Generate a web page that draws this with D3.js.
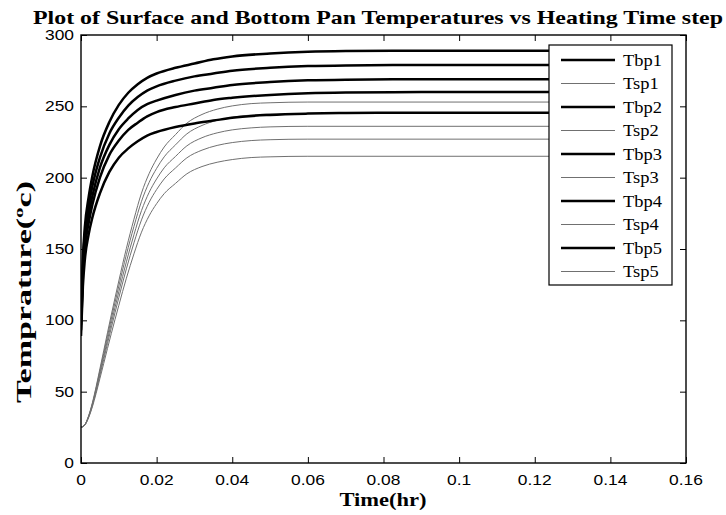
<!DOCTYPE html>
<html>
<head>
<meta charset="utf-8">
<script src="https://cdn.jsdelivr.net/npm/d3@7/dist/d3.min.js"></script>
<style>
  html, body { margin: 0; padding: 0; background: #fff; }
  svg { display: block; }
</style>
</head>
<body>
<svg id="chart" width="726" height="515"></svg>
<script>
// ---------------- data ----------------
const tbpTime = [0, 0.0005, 0.001, 0.002, 0.003, 0.005, 0.0075, 0.01, 0.0125, 0.015, 0.0175, 0.02, 0.025, 0.03, 0.035, 0.04, 0.05, 0.06, 0.07, 0.09, 0.14];
const tbp1 = [105, 144, 165, 186, 201, 222, 239, 251, 259.5, 265.5, 270, 273, 277, 280, 283, 285, 287, 288.2, 288.7, 289, 289];
const tbp2 = [100, 139, 160, 180, 194, 214, 231, 242, 250.5, 256.5, 261, 264, 268, 271, 273, 275, 277, 278.2, 278.7, 279, 279];
const tbp3 = [97, 135, 154, 174, 187, 207, 223, 234, 241.5, 247.5, 251.5, 254, 258, 261, 263, 265, 267, 268.2, 268.7, 269, 269];
const tbp4 = [93, 131, 150, 168, 181, 200, 216, 226, 233.5, 238.5, 243, 246, 249.5, 252, 254.5, 256, 258, 259.2, 259.7, 260, 260];
const tbp5 = [89, 124, 142, 160, 172, 189, 204, 214, 220.5, 225.5, 229.5, 232, 235.5, 238, 240, 242, 244, 244.9, 245.3, 245.5, 245.5];

const tspTime = [0, 0.001, 0.002, 0.003, 0.004, 0.005, 0.006, 0.008, 0.010, 0.012, 0.014, 0.016, 0.018, 0.020, 0.022, 0.025, 0.028, 0.032, 0.036, 0.040, 0.045, 0.050, 0.060, 0.140];
const tsp1 = [25, 26.8, 33, 42.1, 53.5, 66, 78.6, 103.7, 127.6, 150.4, 170.9, 189.2, 202.8, 213.1, 221.5, 230.2, 238.2, 244.3, 248, 250.3, 251.9, 252.5, 253, 253];
const tsp2 = [25, 26.8, 32.7, 41.5, 52.5, 64.6, 76.7, 100.9, 124, 146, 165.8, 183.4, 196.6, 206.5, 214.6, 223, 230.7, 236.6, 240.2, 242.4, 243.9, 244.6, 245, 245];
const tsp3 = [25, 26.7, 32.4, 40.8, 51.4, 63, 74.6, 97.8, 120, 141, 160, 176.9, 189.6, 199.1, 206.9, 214.9, 222.3, 228, 231.4, 233.5, 234.9, 235.6, 236, 236];
const tsp4 = [25, 26.6, 32.1, 40.2, 50.3, 61.4, 72.5, 94.7, 115.9, 136.1, 154.3, 170.4, 182.6, 191.7, 199.1, 206.8, 213.9, 219.3, 222.6, 224.6, 226, 226.6, 227, 227];
const tsp5 = [25, 26.5, 31.7, 39.3, 48.8, 59.2, 69.7, 90.6, 110.5, 129.5, 146.6, 161.8, 173.2, 181.8, 188.8, 196, 202.7, 207.8, 210.8, 212.7, 214.1, 214.6, 215, 215];

const seriesNames = ["Tbp1", "Tsp1", "Tbp2", "Tsp2", "Tbp3", "Tsp3", "Tbp4", "Tsp4", "Tbp5", "Tsp5"];
const xTicks = [0, 0.02, 0.04, 0.06, 0.08, 0.1, 0.12, 0.14, 0.16];
const yTicks = [0, 50, 100, 150, 200, 250, 300];

const titleText = "Plot of Surface and Bottom Pan Temperatures vs Heating Time step";
const xLabelText = "Time(hr)";

// ---------------- layout ----------------
const svg = d3.select("#chart");
const plot = { left: 81, right: 686, top: 35, bottom: 463 };
const x = d3.scaleLinear().domain([0, 0.16]).range([plot.left, plot.right]);
const y = d3.scaleLinear().domain([0, 300]).range([plot.bottom, plot.top]);
const sx = 1.2; // horizontal stretch of the source picture text

const seriesData = [tbp1, tsp1, tbp2, tsp2, tbp3, tsp3, tbp4, tsp4, tbp5, tsp5];
const series = seriesNames.map((name, i) => ({
  name,
  thick: name.startsWith("Tbp"),
  t: name.startsWith("Tbp") ? tbpTime : tspTime,
  v: seriesData[i]
}));
const thinColor = "#707070";

svg.append("defs").append("clipPath").attr("id", "clip")
  .append("rect").attr("x", plot.left).attr("y", plot.top)
  .attr("width", plot.right - plot.left).attr("height", plot.bottom - plot.top);

// lines
const line = d3.line().x(d => x(d[0])).y(d => y(d[1])).curve(d3.curveMonotoneX);
const gLines = svg.append("g").attr("clip-path", "url(#clip)");
series.filter(s => !s.thick).concat(series.filter(s => s.thick)).forEach(s => {
  gLines.append("path")
    .attr("d", line(s.t.map((t, i) => [t, s.v[i]])))
    .attr("fill", "none")
    .attr("stroke", s.thick ? "#000" : thinColor)
    .attr("stroke-width", s.thick ? 2.5 : 1)
    .attr("stroke-linejoin", "round");
});

// axes (box with inward ticks on all sides)
const tickLen = 6;
const axisFont = "'Liberation Sans', Arial, sans-serif";
const gx = svg.append("g").attr("transform", `translate(0,${plot.bottom})`)
  .call(d3.axisBottom(x).tickValues(xTicks).tickSize(-tickLen).tickFormat(() => ""));
const gxt = svg.append("g").attr("transform", `translate(0,${plot.top})`)
  .call(d3.axisTop(x).tickValues(xTicks).tickSize(-tickLen).tickFormat(() => ""));
const gy = svg.append("g").attr("transform", `translate(${plot.left},0)`)
  .call(d3.axisLeft(y).tickValues(yTicks).tickSize(-tickLen).tickFormat(() => ""));
const gyr = svg.append("g").attr("transform", `translate(${plot.right},0)`)
  .call(d3.axisRight(y).tickValues(yTicks).tickSize(-tickLen).tickFormat(() => ""));
[gx, gxt, gy, gyr].forEach(g => {
  g.select(".domain").remove();
  g.selectAll(".tick line").attr("stroke", "#000").attr("stroke-width", 1);
});
svg.append("rect")
  .attr("x", plot.left).attr("y", plot.top)
  .attr("width", plot.right - plot.left).attr("height", plot.bottom - plot.top)
  .attr("fill", "none").attr("stroke", "#000").attr("stroke-width", 1.4);

// tick labels
xTicks.forEach(v => {
  svg.append("text")
    .attr("transform", `translate(${x(v)},485) scale(${sx},1)`)
    .attr("text-anchor", "middle")
    .attr("font-family", axisFont).attr("font-size", 14.5)
    .attr("fill", "#000")
    .text(d3.format("~g")(v));
});
yTicks.forEach(v => {
  svg.append("text")
    .attr("transform", `translate(74,${y(v) + 5}) scale(${sx},1)`)
    .attr("text-anchor", "end")
    .attr("font-family", axisFont).attr("font-size", 14.5)
    .attr("fill", "#000")
    .text(v);
});

// title
const serif = "'Liberation Serif', 'Times New Roman', serif";
svg.append("text")
  .attr("x", 33).attr("y", 24)
  .attr("font-family", serif).attr("font-weight", "bold").attr("font-size", 19)
  .attr("fill", "#000")
  .attr("textLength", 690).attr("lengthAdjust", "spacingAndGlyphs")
  .text(titleText);

// x label
svg.append("text")
  .attr("transform", `translate(383,506) scale(1.25,1)`)
  .attr("text-anchor", "middle")
  .attr("font-family", serif).attr("font-weight", "bold").attr("font-size", 18)
  .attr("fill", "#000")
  .text(xLabelText);

// y label: Temprature(°c) with superscript o
const yl = svg.append("text")
  .attr("font-family", serif).attr("font-weight", "bold").attr("font-size", 21)
  .attr("fill", "#000")
  .attr("text-anchor", "middle");
yl.append("tspan").text("Temprature(");
yl.append("tspan").attr("font-size", 13).attr("dy", -8).text("o");
yl.append("tspan").attr("dy", 8).text("c)");
const ylLen = yl.node().getComputedTextLength();
const ylScale = 222 / ylLen;
yl.attr("transform", `translate(31,292) rotate(-90) scale(${ylScale},1)`);

// legend
const leg = { x: 549, y: 45, w: 123, h: 240 };
const gl = svg.append("g");
gl.append("rect").attr("x", leg.x).attr("y", leg.y).attr("width", leg.w).attr("height", leg.h)
  .attr("fill", "#fff").attr("stroke", "#000").attr("stroke-width", 1.2);
series.forEach((s, i) => {
  const yy = 60 + i * 23.5;
  gl.append("line").attr("x1", 561).attr("x2", 615).attr("y1", yy).attr("y2", yy)
    .attr("stroke", s.thick ? "#000" : thinColor).attr("stroke-width", s.thick ? 2.5 : 1);
  gl.append("text")
    .attr("transform", `translate(623,${yy + 5.5}) scale(1.12,1)`)
    .attr("font-family", serif).attr("font-size", 16.5)
    .attr("fill", "#000")
    .text(s.name);
});
</script>
</body>
</html>
